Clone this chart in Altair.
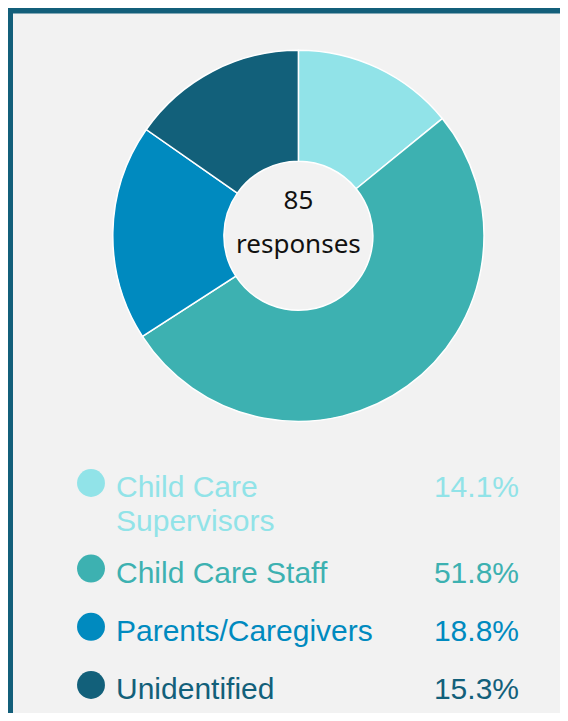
import altair as alt
import pandas as pd

# ---- data ----
categories = ["Child Care Supervisors", "Child Care Staff", "Parents/Caregivers", "Unidentified"]
label_lines = [["Child Care", "Supervisors"], ["Child Care Staff"], ["Parents/Caregivers"], ["Unidentified"]]
counts = [12, 44, 16, 13]
percent_labels = ["14.1%", "51.8%", "18.8%", "15.3%"]
colors = ["#91e3e8", "#3db1b1", "#008abf", "#12607a"]
center_lines = ["85", "responses"]

# legend row positions derived from the number of text lines in each label
row_pos = []
p = 0.0
for lines in label_lines:
    row_pos.append(p)
    p += 1 + 0.47 * (len(lines) - 1)

df = pd.DataFrame({
    "category": categories,
    "label": ["\n".join(l) for l in label_lines],
    "count": counts,
    "pct": percent_labels,
    "order": list(range(len(categories))),
    "row": row_pos,
})
center_df = pd.DataFrame({"text": ["\n".join(center_lines)]})

W, H = 552, 705
CX, CY = 290.4, 227.8
BORDER = "#135f7a"

color = alt.Color("category:N", scale=alt.Scale(domain=categories, range=colors), legend=None)
yscale = alt.Scale(domain=[0, row_pos[-1]], range=[475, 677])

base = alt.Chart(df)

arcs = base.mark_arc(
    outerRadius=185.6, innerRadius=74.5, stroke="white", strokeWidth=1.5
).encode(
    theta=alt.Theta("count:Q", stack=True),
    order=alt.Order("order:Q"),
    color=color,
    x=alt.value(CX),
    y=alt.value(CY),
)

center = alt.Chart(center_df).mark_text(
    font="Noto Sans", fontSize=26, color="#111111", align="center",
    baseline="alphabetic", lineBreak="\n", lineHeight=43.4
).encode(
    text="text:N", x=alt.value(CX), y=alt.value(201.3)
)

dots = base.mark_point(filled=True, shape="circle", size=780, opacity=1).encode(
    x=alt.value(83),
    y=alt.Y("row:Q", scale=yscale, axis=None),
    color=color,
)

labels = base.mark_text(
    font="Liberation Sans", fontSize=30, align="left", baseline="middle",
    dy=5, lineBreak="\n", lineHeight=34
).encode(
    x=alt.value(108),
    y=alt.Y("row:Q", scale=yscale, axis=None),
    text="label:N",
    color=color,
)

pcts = base.mark_text(
    font="Liberation Sans", fontSize=30, align="right", baseline="middle", dy=5
).encode(
    x=alt.value(511),
    y=alt.Y("row:Q", scale=yscale, axis=None),
    text="pct:N",
    color=color,
)

left_border = alt.Chart(center_df).mark_rect(color=BORDER).encode(
    x=alt.value(0), x2=alt.value(5), y=alt.value(0), y2=alt.value(H)
)
top_border = alt.Chart(center_df).mark_rect(color=BORDER).encode(
    x=alt.value(0), x2=alt.value(W), y=alt.value(0), y2=alt.value(5.5)
)

chart = alt.layer(
    arcs, center, dots, labels, pcts, left_border, top_border
).properties(
    width=W, height=H, background="#f2f2f2", padding=0,
    autosize=alt.AutoSizeParams(type="none")
).configure_view(stroke=None)

chart.save("out.html", embed_options={"renderer": "svg", "actions": False})
